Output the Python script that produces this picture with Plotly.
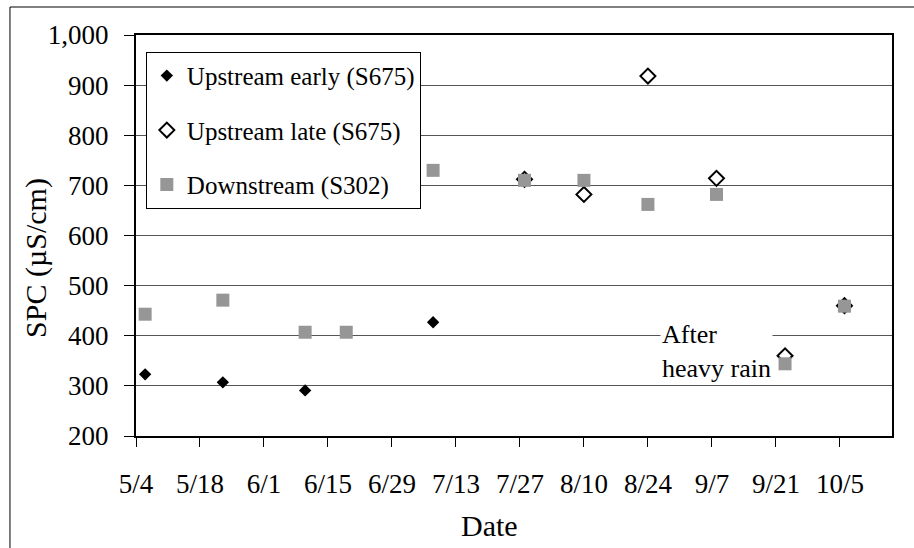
import plotly.graph_objects as go

# data
early_dates = ['2007-05-06', '2007-05-23', '2007-06-10', '2007-07-08']
early_spc = [323, 307, 291, 427]

late_dates = ['2007-07-28', '2007-08-10', '2007-08-24', '2007-09-08', '2007-09-23', '2007-10-06']
late_spc = [712, 682, 918, 714, 360, 460]

down_dates = ['2007-05-06', '2007-05-23', '2007-06-10', '2007-06-19', '2007-07-08', '2007-07-28',
              '2007-08-10', '2007-08-24', '2007-09-08', '2007-09-23', '2007-10-06']
down_spc = [443, 471, 407, 407, 730, 710, 710, 662, 682, 344, 459]

FONT = 'Liberation Serif, Times New Roman, serif'
DAY = 86400000

fig = go.Figure()
fig.add_trace(go.Scatter(x=early_dates, y=early_spc, mode='markers', name='Upstream early (S675)',
                         legendgroup='a',
                         marker=dict(symbol='diamond', size=9.5, color='black', line=dict(width=0))))
fig.add_trace(go.Scatter(x=late_dates, y=late_spc, mode='markers', name='Upstream late (S675)',
                         legendgroup='b',
                         marker=dict(symbol='diamond', size=11.5, color='white', line=dict(color='black', width=2))))
fig.add_trace(go.Scatter(x=down_dates, y=down_spc, mode='markers', name='Downstream (S302)',
                         legendgroup='c',
                         marker=dict(symbol='square', size=13, color='#969696', line=dict(width=0))))

fig.update_layout(
    width=914, height=548,
    margin=dict(l=136, r=22, t=35, b=112),
    paper_bgcolor='white', plot_bgcolor='white',
    font=dict(family=FONT, size=27, color='black'),
    showlegend=True,
    legend=dict(x=0.013, y=0.958, xanchor='left', yanchor='top',
                bgcolor='white', bordercolor='black', borderwidth=1,
                font=dict(family=FONT, size=25, color='black'),
                tracegroupgap=19, traceorder='grouped'),
    xaxis=dict(type='date', range=['2007-05-04', '2007-10-16 09:36'],
               tick0='2007-05-04', dtick=14 * DAY, tickformat='%-m/%-d',
               ticks='outside', ticklen=9, tickcolor='black', tickwidth=1,
               showline=True, linecolor='black', linewidth=2, mirror=True,
               showgrid=False, zeroline=False, ticklabelstandoff=14,
               tickfont=dict(family=FONT, size=27, color='black')),
    yaxis=dict(range=[200, 1000], dtick=100, tickformat=',d',
               ticks='outside', ticklen=10, tickcolor='black', tickwidth=1,
               showline=True, linecolor='black', linewidth=2, mirror=True,
               showgrid=True, gridcolor='#555555', gridwidth=1, zeroline=False,
               ticklabelstandoff=10,
               tickfont=dict(family=FONT, size=27, color='black')),
)

# axis titles
fig.add_annotation(text='Date', xref='paper', yref='paper', x=0.468, y=-0.222,
                   xanchor='center', yanchor='middle',
                   showarrow=False, font=dict(family=FONT, size=30, color='black'))
fig.add_annotation(text='SPC (\u00b5S/cm)', xref='paper', yref='paper', x=-0.1323, y=0.444,
                   xanchor='center', yanchor='middle',
                   textangle=-90, showarrow=False, font=dict(family=FONT, size=30, color='black'))

# note on the rain event
fig.add_annotation(text='After<br>heavy rain', xref='paper', yref='paper', x=0.693, y=0.21,
                   xanchor='left', yanchor='middle', align='left', showarrow=False,
                   bgcolor='white', borderpad=1,
                   font=dict(family=FONT, size=26, color='black'))

# outer chart frame
fig.add_shape(type='rect', xref='paper', yref='paper', x0=-0.1667, x1=1.03, y0=-0.32, y1=1.0698,
              line=dict(color='black', width=1), layer='below')

fig.write_html('out.html', config={'displayModeBar': False},
               post_script="document.body.style.margin='0';")
